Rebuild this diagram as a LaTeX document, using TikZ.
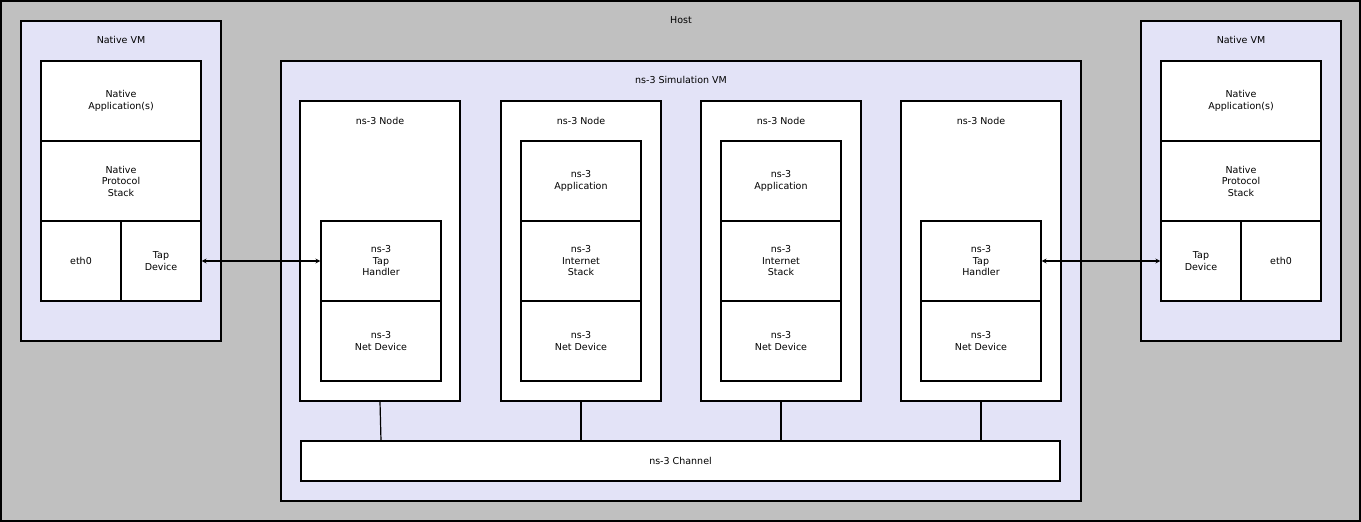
\documentclass[tikz,border=0pt]{standalone}
\usepackage{fontspec}
\setmainfont{DejaVu Sans}
\begin{document}
\begin{tikzpicture}[x=1pt,y=-1pt,
  box/.style={draw=black,line width=1.2pt,fill=white,inner sep=0pt,align=center,font=\fontsize{9.5}{11.5}\selectfont},
  vm/.style={draw=black,line width=1.2pt,fill=vmc},
  lbl/.style={font=\fontsize{9.5}{11.5}\selectfont,inner sep=0pt},
  arr/.style={line width=1.2pt,<->,>=stealth}]
\definecolor{vmc}{HTML}{E3E3F7}
\definecolor{hostc}{HTML}{C0C0C0}
\useasboundingbox (0,0) rectangle (1361,522);
\draw[line width=1.2pt,fill=hostc] (1,1) rectangle (1360,521);
\node[lbl] (host) at (681,20) {Host};
% left VM
\draw[vm] (21,21) rectangle (221,341);
\node[lbl] (lvm) at (121,40) {Native VM};
\node[box,minimum width=160,minimum height=80] (lapp) at (121,101) {Native\\Application(s)};
\node[box,minimum width=160,minimum height=80] (lps) at (121,181) {Native\\Protocol\\Stack};
\node[box,minimum width=80,minimum height=80] (leth) at (81,261) {eth0};
\node[box,minimum width=80,minimum height=80] (ltap) at (161,261) {Tap\\Device};
% right VM
\draw[vm] (1141,21) rectangle (1341,341);
\node[lbl] (rvm) at (1241,40) {Native VM};
\node[box,minimum width=160,minimum height=80] (rapp) at (1241,101) {Native\\Application(s)};
\node[box,minimum width=160,minimum height=80] (rps) at (1241,181) {Native\\Protocol\\Stack};
\node[box,minimum width=80,minimum height=80] (rtap) at (1201,261) {Tap\\Device};
\node[box,minimum width=80,minimum height=80] (reth) at (1281,261) {eth0};
% sim VM
\draw[vm] (281,61) rectangle (1081,501);
\node[lbl] (svm) at (681,80) {ns-3 Simulation VM};
\foreach \n/\x in {1/380,2/581,3/781,4/981}{
  \node[box,minimum width=160,minimum height=300] (n\n) at (\x,251) {};
  \node[lbl] at (\x,121) {ns-3 Node};
}
\node[box,minimum width=120,minimum height=80] (th1) at (381,261) {ns-3\\Tap\\Handler};
\node[box,minimum width=120,minimum height=80] (nd1) at (381,341) {ns-3\\Net Device};
\node[box,minimum width=120,minimum height=80] (ap2) at (581,181) {ns-3\\Application};
\node[box,minimum width=120,minimum height=80] (is2) at (581,261) {ns-3\\Internet\\Stack};
\node[box,minimum width=120,minimum height=80] (nd2) at (581,341) {ns-3\\Net Device};
\node[box,minimum width=120,minimum height=80] (ap3) at (781,181) {ns-3\\Application};
\node[box,minimum width=120,minimum height=80] (is3) at (781,261) {ns-3\\Internet\\Stack};
\node[box,minimum width=120,minimum height=80] (nd3) at (781,341) {ns-3\\Net Device};
\node[box,minimum width=120,minimum height=80] (th4) at (981,261) {ns-3\\Tap\\Handler};
\node[box,minimum width=120,minimum height=80] (nd4) at (981,341) {ns-3\\Net Device};
\node[box,minimum width=759,minimum height=40] (ch) at (680.5,461) {ns-3 Channel};
\draw[line width=1.2pt] (n1.south) -- (381,441);
\draw[line width=1.2pt] (n2.south) -- (n2.south |- ch.north);
\draw[line width=1.2pt] (n3.south) -- (n3.south |- ch.north);
\draw[line width=1.2pt] (n4.south) -- (n4.south |- ch.north);
\draw[arr] (ltap.east) -- (th1.west);
\draw[arr] (th4.east) -- (rtap.west);
\end{tikzpicture}
\end{document}
